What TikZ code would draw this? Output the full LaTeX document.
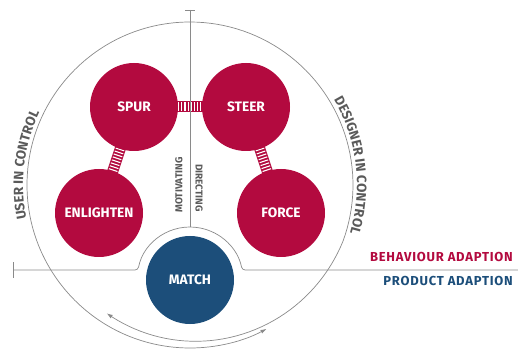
\documentclass[tikz,border=0pt]{standalone}
\usepackage{fontspec}
\setmainfont{Fira Sans}
\usetikzlibrary{arrows.meta,backgrounds,decorations.text}
\definecolor{rdColor}{HTML}{B30A3F}
\definecolor{blColor}{HTML}{1C4E7A}
\definecolor{lnColor}{HTML}{8A8A8A}
\definecolor{txColor}{HTML}{5A5A5A}
\newcommand{\ringfont}{\bfseries\fontsize{13.5}{15}\selectfont}
\tikzset{
	bubble/.style={circle, fill=rdColor, text=white, minimum size=88pt, inner sep=0,
		font=\bfseries\fontsize{13.7}{15}\selectfont},
	spring/.style={draw=rdColor, line width=11pt, shorten <=-4pt, shorten >=-4pt,
		postaction={draw=white, line width=9pt, dash pattern=on 1.1pt off 2pt,
			shorten <=0pt, shorten >=0pt}},
	guide/.style={draw=lnColor, line width=0.7pt},
	side/.style={font=\bfseries\fontsize{10}{12}\selectfont, text=txColor},
	adapt/.style={anchor=base east, inner sep=0,
		font=\bfseries\fontsize{13}{15}\selectfont\addfontfeatures{LetterSpace=6}},
	ringtext/.style={decorate, font=\ringfont, text=txColor,
		decoration={text along path, text align=center, text color=txColor,
			text={|\ringfont|#1}}},
	tip/.style={-{Latex[length=6pt, width=4pt]}}
}

\begin{document}
\begin{tikzpicture}[x=1pt, y=1pt]
	\useasboundingbox (0,0) rectangle (518,350);
	\coordinate (o) at (190,165);
	\coordinate (top) at (190,340);
	\coordinate (cut) at (190,123);
	\coordinate (lft) at (13,80);
	\coordinate (rgt) at (518,80);
	% outer ring, its two ends cross at the bottom
	\draw[guide, tip] ([shift={(90:163)}]o) arc[start angle=90, end angle=298, radius=163];
	\draw[guide, shift={(o)}, {Latex[length=6pt, width=4pt]}-]
		plot[domain=-123:90, samples=90, variable=\t] (\t:{163-10*max(0,-20-\t)/103});
	% axes
	\draw[guide] (top) -- (cut);
	\draw[guide] ([xshift=-5pt]top) -- ([xshift=5pt]top);
	\draw[guide, rounded corners=3pt] (lft) -- (138,80) arc[start angle=169.1, end angle=10.9, radius=53] -- (rgt);
	\draw[guide] ([yshift=-8pt]lft) -- ([yshift=8pt]lft);
	% the five modes
	\node[bubble] (spur) at (134,243) {SPUR};
	\node[bubble] (steer) at (246,243) {STEER};
	\node[bubble] (enlighten) at (99,137) {ENLIGHTEN};
	\node[bubble] (force) at (281,137) {FORCE};
	\node[bubble, fill=blColor] (match) at (190,70) {MATCH};
	\begin{scope}[on background layer]
		\path (spur) edge[spring] (steer);
		\path (spur) edge[spring] (enlighten);
		\path (steer) edge[spring] (force);
	\end{scope}
	\node[side, rotate=90] (motiv) at (179,165) {MOTIVATING};
	\node[side, rotate=-90] (direct) at (199,162) {DIRECTING};
	% labels round the ring
	\path[ringtext={USER IN CONTROL}]
		([shift={(215:167)}]o) arc[start angle=215, end angle=131, radius=167];
	\path[ringtext={DESIGNER IN CONTROL}]
		([shift={(49:167)}]o) arc[start angle=49, end angle=-35, radius=167];
	\node[adapt, text=rdColor] (behav) at (513,88) {BEHAVIOUR ADAPTION};
	\node[adapt, text=blColor] (prod) at (513,64) {PRODUCT ADAPTION};
\end{tikzpicture}
\end{document}
